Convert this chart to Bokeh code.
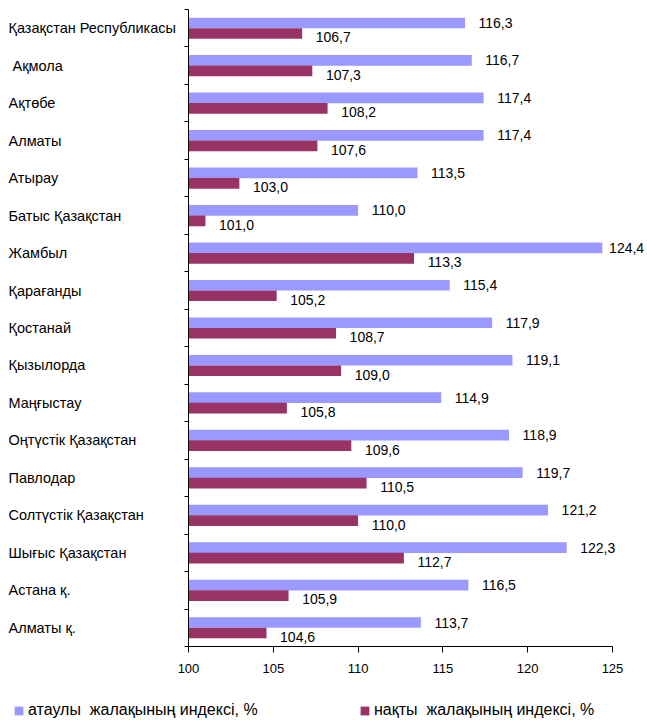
import numpy as np
from bokeh.plotting import figure
from bokeh.models import (ColumnDataSource, Range1d, FixedTicker, LinearAxis,
                          LabelSet, Legend, LegendItem)
from bokeh.core.properties import value
from bokeh.embed import file_html
from bokeh.resources import INLINE

regions = ["Қазақстан Республикасы", "\u00a0Ақмола", "Ақтөбе", "Алматы", "Атырау",
           "Батыс Қазақстан", "Жамбыл", "Қарағанды", "Қостанай", "Қызылорда",
           "Маңғыстау", "Оңтүстік Қазақстан", "Павлодар", "Солтүстік Қазақстан",
           "Шығыс Қазақстан", "Астана қ.", "Алматы қ."]
nominal = [116.3, 116.7, 117.4, 117.4, 113.5, 110.0, 124.4, 115.4, 117.9, 119.1,
           114.9, 118.9, 119.7, 121.2, 122.3, 116.5, 113.7]
real = [106.7, 107.3, 108.2, 107.6, 103.0, 101.0, 113.3, 105.2, 108.7, 109.0,
        105.8, 109.6, 110.5, 110.0, 112.7, 105.9, 104.6]
series_names = ["атаулы  жалақының индексі, %", "нақты  жалақының индексі, %"]
x_ticks = [100, 105, 110, 115, 120, 125]
X_MIN, X_MAX = 100, 125

LIGHT = "#9999FF"
DARK = "#993366"
FONT = "Liberation Sans"

# layout (pixels inside the figure)
W, H = 647, 720
AX_LEFT, AX_RIGHT = 188, 612     # x=100 and x=125
AX_TOP, AX_BOTTOM = 9, 646       # top of first category, x-axis line

def fmt(v):
    return f"{v:.1f}".replace(".", ",")

n = len(regions)
px_x = (AX_RIGHT - AX_LEFT) / (X_MAX - X_MIN)
px_y = (AX_BOTTOM - AX_TOP) / n
x0 = X_MIN - AX_LEFT / px_x
x1 = x0 + W / px_x
y0 = -(H - AX_BOTTOM) / px_y
y1 = n + AX_TOP / px_y

nom = np.array(nominal)
rl = np.array(real)
cy = n - 0.5 - np.arange(n)  # category centres, first at top
src = ColumnDataSource(dict(
    cat=regions, cy=cy, y_nom=cy + 0.14, y_real=cy - 0.14, y_real_lbl=cy - 0.245,
    nom=nom, real=rl,
    nom_lbl=[fmt(v) for v in nominal], real_lbl=[fmt(v) for v in real],
    nom_lx=np.minimum(nom + 0.8, 124.8), real_lx=np.minimum(rl + 0.8, 124.8),
    lx=[8] * n,
))

p = figure(width=W, height=H, output_backend="svg", toolbar_location=None,
           x_range=Range1d(x0, x1), y_range=Range1d(y0, y1),
           x_axis_location=None, y_axis_location=None,
           min_border=0, min_border_left=0, min_border_right=0,
           min_border_top=0, min_border_bottom=0)
p.outline_line_color = None
p.xgrid.visible = False
p.ygrid.visible = False

r1 = p.hbar(y="y_nom", left=X_MIN, right="nom", height=0.285,
            source=src, fill_color=LIGHT, line_color=None)
r2 = p.hbar(y="y_real", left=X_MIN, right="real", height=0.285,
            source=src, fill_color=DARK, line_color=None)

# x axis
xa = LinearAxis(fixed_location=0, bounds=(X_MIN, X_MAX), ticker=FixedTicker(ticks=x_ticks))
xa.minor_tick_line_color = None
xa.major_tick_in = 0
xa.major_tick_out = 6
xa.axis_line_color = "black"
xa.major_tick_line_color = "black"
xa.major_label_text_font = FONT
xa.major_label_text_font_size = "13px"
xa.major_label_text_color = "black"
xa.major_label_standoff = 11
p.add_layout(xa, "below")

# y axis with ticks at category boundaries, no labels
ya = LinearAxis(fixed_location=X_MIN, bounds=(0, n), ticker=FixedTicker(ticks=list(range(n + 1))))
ya.major_label_text_font_size = "0px"
ya.major_label_text_alpha = 0
ya.minor_tick_line_color = None
ya.major_tick_in = 0
ya.major_tick_out = 4
ya.axis_line_color = "black"
ya.major_tick_line_color = "black"
p.add_layout(ya, "left")

# category labels (left aligned)
p.add_layout(LabelSet(x="lx", y="cy", text="cat", x_units="screen", source=src,
                      text_font=value(FONT), text_font_size=value("14.5px"), text_color="black",
                      text_align="left", text_baseline="middle"))

# value labels
p.add_layout(LabelSet(x="nom_lx", y="y_nom", text="nom_lbl",
                      source=src, text_font=value(FONT), text_font_size=value("14px"),
                      text_color="black", text_align="left", text_baseline="middle"))
p.add_layout(LabelSet(x="real_lx", y="y_real_lbl", text="real_lbl",
                      source=src, text_font=value(FONT), text_font_size=value("14px"),
                      text_color="black", text_align="left", text_baseline="middle"))

def make_legend(label, rend, loc):
    return Legend(items=[LegendItem(label=label, renderers=[rend])], location=loc,
                  orientation="horizontal", border_line_alpha=0, background_fill_alpha=0,
                  padding=0, margin=0, glyph_width=11, glyph_height=11, label_height=12,
                  label_standoff=4, label_text_font=FONT, label_text_font_size="16px",
                  label_text_color="black", spacing=0)

p.add_layout(make_legend(series_names[0], r1, (13, 1)), "center")
p.add_layout(make_legend(series_names[1], r2, (359, 1)), "center")

open("out.html", "w").write(file_html(p, INLINE))
